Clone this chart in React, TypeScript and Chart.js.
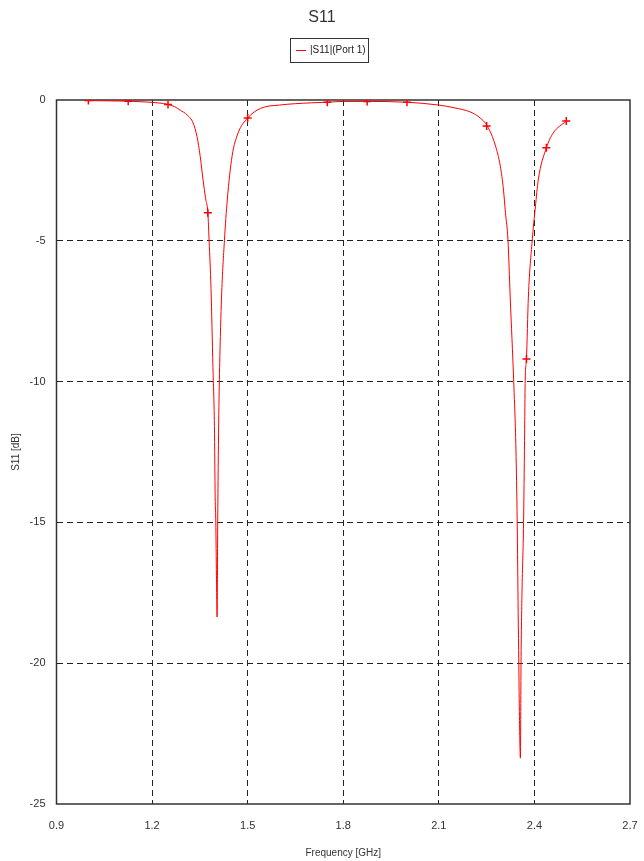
import React, { useEffect, useRef } from "react";
import { Chart, registerables } from "chart.js";

Chart.register(...registerables);

const chartTitle = "S11";
const seriesLabel = "|S11|(Port 1)";
const xTitle = "Frequency [GHz]";
const yTitle = "S11 [dB]";

const xTicks = [0.9, 1.2, 1.5, 1.8, 2.1, 2.4, 2.7];
const yTicks = [0, -5, -10, -15, -20, -25];

const freq = [
  1.0, 1.06, 1.125, 1.18, 1.225, 1.247, 1.27, 1.288, 1.31, 1.329, 1.341, 1.351, 1.36, 1.368,
  1.375, 1.379, 1.385, 1.391, 1.3957, 1.398, 1.4, 1.402, 1.404, 1.406, 1.409, 1.412, 1.418,
  1.427, 1.436, 1.451, 1.47, 1.5, 1.54, 1.6, 1.7, 1.75, 1.8, 1.875, 2.0, 2.1, 2.15, 2.2, 2.23,
  2.252, 2.277, 2.293, 2.303, 2.309, 2.317, 2.324, 2.335, 2.342, 2.346, 2.349, 2.351, 2.353,
  2.356, 2.358, 2.361, 2.366, 2.369, 2.371, 2.375, 2.381, 2.393, 2.403, 2.412, 2.4375, 2.459, 2.5,
];
const s11 = [
  -0.02, -0.03, -0.04, -0.07, -0.11, -0.15, -0.23, -0.36, -0.53, -0.82, -1.3, -2.0, -2.84, -3.5,
  -4.0, -5.0, -6.7, -9.5, -11.6, -14.1, -15.0, -16.9, -18.36, -15.0, -11.5, -9.5, -7.0,
  -5.0, -3.55, -2.0, -1.17, -0.64, -0.3, -0.18, -0.1, -0.08, -0.05, -0.05, -0.08, -0.18, -0.28, -0.43, -0.64,
  -0.92, -1.6, -2.35, -3.2, -4.0, -4.97, -7.0, -10.0, -12.4, -15.0, -18.2, -20.0, -21.9,
  -23.37, -20.0, -17.5, -15.0, -12.1, -10.0, -9.2, -7.0, -5.0, -3.8, -2.84, -1.7, -1.17, -0.75,
];

const markerFreq = [1.0, 1.125, 1.25, 1.375, 1.5, 1.75, 1.875, 2.0, 2.25, 2.375, 2.4375, 2.5];
const markerS11 = [-0.02, -0.04, -0.16, -4.0, -0.64, -0.08, -0.05, -0.08, -0.92, -9.2, -1.7, -0.75];

const FONT = "'Liberation Sans Narrow', 'Liberation Sans', Arial, sans-serif";
const RED = "#ff0000";

const decorPlugin = {
  id: "decor",
  beforeDatasetsDraw(chart: any) {
    const { ctx, chartArea } = chart;
    ctx.save();
    ctx.strokeStyle = "#333";
    ctx.lineWidth = 1.5;
    ctx.strokeRect(chartArea.left, chartArea.top, chartArea.right - chartArea.left, chartArea.bottom - chartArea.top);
    ctx.restore();
  },
  afterDraw(chart: any) {
    const { ctx, width } = chart;
    ctx.save();
    ctx.fillStyle = "#333";
    ctx.font = `16px ${FONT}`;
    ctx.textAlign = "center";
    ctx.textBaseline = "middle";
    ctx.fillText(chartTitle, width / 2, 18);
    const bx = 290, by = 38, bw = 78, bh = 24;
    ctx.fillStyle = "#fff";
    ctx.fillRect(bx, by, bw, bh);
    ctx.strokeStyle = "#333";
    ctx.lineWidth = 1;
    ctx.strokeRect(bx + 0.5, by + 0.5, bw, bh);
    ctx.strokeStyle = RED;
    ctx.lineWidth = 1;
    ctx.beginPath();
    ctx.moveTo(bx + 6, by + 12.5);
    ctx.lineTo(bx + 16, by + 12.5);
    ctx.stroke();
    ctx.fillStyle = "#222";
    ctx.font = `10px ${FONT}`;
    ctx.textAlign = "left";
    ctx.fillText(seriesLabel, bx + 20, by + 12.5);
    ctx.restore();
  },
};

export default function App() {
  const ref = useRef<HTMLCanvasElement | null>(null);

  useEffect(() => {
    if (!ref.current) return;
    const lineData = freq.map((f, i) => ({ x: f, y: s11[i] }));
    const markData = markerFreq.map((f, i) => ({ x: f, y: markerS11[i] }));
    const chart = new Chart(ref.current, {
      type: "line",
      data: {
        datasets: [
          {
            label: seriesLabel,
            data: lineData,
            borderColor: RED,
            borderWidth: 1,
            pointRadius: 0,
            cubicInterpolationMode: "monotone",
            fill: false,
          },
          {
            label: "markers",
            data: markData,
            showLine: false,
            pointStyle: "cross",
            pointRadius: 4,
            pointBorderWidth: 1.5,
            borderColor: RED,
            backgroundColor: RED,
          },
        ],
      },
      options: {
        animation: false,
        responsive: false,
        devicePixelRatio: 1,
        layout: { padding: { left: 0, top: 100, right: 14, bottom: 0 } },
        plugins: {
          legend: { display: false },
          title: { display: false },
          tooltip: { enabled: false },
        },
        scales: {
          x: {
            type: "linear",
            min: 0.9,
            max: 2.7,
            afterBuildTicks: (scale: any) => {
              scale.ticks = xTicks.map((v) => ({ value: v }));
            },
            afterFit: (scale: any) => {
              scale.height = 57;
              scale.paddingLeft = 0;
              scale.paddingRight = 0;
            },
            ticks: {
              padding: 15,
              color: "#333",
              font: { family: FONT, size: 11 },
              callback: (v: any) => Number(v).toFixed(1),
              maxRotation: 0,
              autoSkip: false,
            },
            grid: {
              drawTicks: false,
              color: (c: any) =>
                c.tick && (c.tick.value === 0.9 || c.tick.value === 2.7) ? "rgba(0,0,0,0)" : "#222",
              lineWidth: 1,
            },
            border: { display: false, dash: [6, 4] },
            title: {
              display: true,
              text: xTitle,
              color: "#333",
              font: { family: FONT, size: 10 },
              padding: { top: 0, bottom: 2 },
            },
          },
          y: {
            type: "linear",
            min: -25,
            max: 0,
            afterBuildTicks: (scale: any) => {
              scale.ticks = yTicks.map((v) => ({ value: v }));
            },
            afterFit: (scale: any) => {
              scale.width = 56.5;
              scale.paddingTop = 0;
              scale.paddingBottom = 0;
            },
            ticks: {
              padding: 11,
              color: "#333",
              font: { family: FONT, size: 11 },
              callback: (v: any) => String(v),
              autoSkip: false,
            },
            grid: {
              drawTicks: false,
              color: (c: any) =>
                c.tick && (c.tick.value === 0 || c.tick.value === -25) ? "rgba(0,0,0,0)" : "#222",
              lineWidth: 1,
            },
            border: { display: false, dash: [6, 4] },
            title: {
              display: true,
              text: yTitle,
              color: "#333",
              font: { family: FONT, size: 10 },
              padding: { top: 10, bottom: 0 },
            },
          },
        },
      },
      plugins: [decorPlugin],
    } as any);
    return () => chart.destroy();
  }, []);

  return (
    <div style={{ position: "absolute", left: 0, top: 0, width: 644, height: 861, background: "#fff" }}>
      <canvas ref={ref} width={644} height={861} style={{ width: 644, height: 861, display: "block" }} />
    </div>
  );
}
